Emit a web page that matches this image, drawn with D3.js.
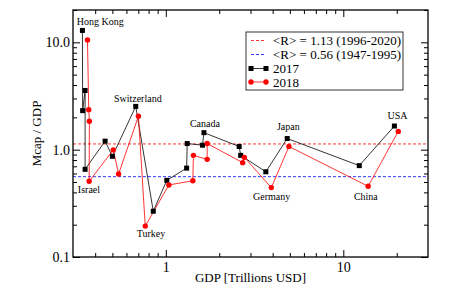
<!DOCTYPE html>
<html>
<head>
<meta charset="utf-8">
<script src="https://cdn.jsdelivr.net/npm/d3@7"></script>
<style>
  body { margin: 0; background: #fff; }
  svg { display: block; font-family: "Liberation Serif", "Times New Roman", serif; }
</style>
</head>
<body>
<div id="chart"></div>
<script>
// data (GDP in trillions USD, ratio Mcap/GDP)
const gdp2017 = [0.339, 0.340, 0.351, 0.351, 0.455, 0.500, 0.677, 0.850, 1.013, 1.31, 1.32, 1.61, 1.64, 2.59, 2.64, 3.66, 4.83, 12.3, 19.4];
const ratio2017 = [12.9, 2.31, 3.56, 0.656, 1.20, 0.867, 2.53, 0.267, 0.518, 0.673, 1.14, 1.10, 1.44, 1.07, 0.885, 0.622, 1.27, 0.710, 1.66];
const gdp2018 = [0.362, 0.368, 0.371, 0.370, 0.506, 0.542, 0.701, 0.766, 1.04, 1.42, 1.43, 1.71, 1.71, 2.71, 2.77, 3.93, 4.94, 13.8, 20.4];
const ratio2018 = [10.5, 2.36, 1.84, 0.507, 0.996, 0.593, 2.05, 0.194, 0.469, 0.513, 0.885, 0.812, 1.14, 0.757, 0.848, 0.443, 1.07, 0.456, 1.48];

// reference averages
const avgLabels = ["<R> = 1.13 (1996-2020)", "<R> = 0.56 (1947-1995)"];
const avgValues = [1.13, 0.56];
const avgColors = ["#ff0000", "#0000ff"];

// country annotations (text, gdp, ratio at baseline)
const labelText = ["Hong Kong", "Switzerland", "Canada", "Japan", "USA", "Israel", "Turkey", "Germany", "China"];
const labelGdp = [0.427, 0.695, 1.66, 4.90, 20.2, 0.369, 0.825, 3.95, 13.4];
const labelRatio = [14.6, 2.78, 1.63, 1.51, 1.94, 0.396, 0.155, 0.338, 0.338];

// ticks
const xMajor = [1, 10];
const xMinor = [0.4, 0.5, 0.6, 0.7, 0.8, 0.9, 2, 3, 4, 5, 6, 7, 8, 9, 20];
const yMajor = [0.1, 1, 10];
const yMinor = [0.2, 0.3, 0.4, 0.5, 0.6, 0.7, 0.8, 0.9, 2, 3, 4, 5, 6, 7, 8, 9, 20];

const serif = "Liberation Serif, Times New Roman, serif";

// dimensions
const w = 469;
const h = 291;
const padLeft = 73;
const padRight = 41;
const padTop = 10;
const padBot = 34;

const svg = d3.select("#chart")
  .append("svg")
  .attr("width", w)
  .attr("height", h);

const xScale = d3.scaleLog()
  .domain([0.3, 30])
  .range([padLeft, w - padRight]);
const yScale = d3.scaleLog()
  .domain([0.1, 20])
  .range([h - padBot, padTop]);

// axes: ticks point inward on all four sides
function styleAxis(g) {
  g.attr("font-family", serif);
  g.select(".domain").remove();
  g.selectAll("line").attr("stroke", "#000").attr("stroke-width", 1);
  g.selectAll("text").attr("fill", "#000").style("font-size", "14px")
    .style("font-family", serif);
}

// bottom
svg.append("g")
  .attr("transform", `translate(0, ${h - padBot})`)
  .call(d3.axisBottom(xScale).tickValues(xMajor).tickSizeInner(-7).tickSizeOuter(0)
    .tickPadding(5).tickFormat(d3.format("d")))
  .call(styleAxis);
svg.append("g")
  .attr("transform", `translate(0, ${h - padBot})`)
  .call(d3.axisBottom(xScale).tickValues(xMinor).tickSizeInner(-4).tickSizeOuter(0).tickFormat(""))
  .call(styleAxis);
// top
svg.append("g")
  .attr("transform", `translate(0, ${padTop})`)
  .call(d3.axisTop(xScale).tickValues(xMajor).tickSizeInner(-7).tickSizeOuter(0).tickFormat(""))
  .call(styleAxis);
svg.append("g")
  .attr("transform", `translate(0, ${padTop})`)
  .call(d3.axisTop(xScale).tickValues(xMinor).tickSizeInner(-4).tickSizeOuter(0).tickFormat(""))
  .call(styleAxis);
// left
svg.append("g")
  .attr("transform", `translate(${padLeft}, 0)`)
  .call(d3.axisLeft(yScale).tickValues(yMajor).tickSizeInner(-7).tickSizeOuter(0)
    .tickPadding(3).tickFormat(d3.format(".1f")))
  .call(styleAxis);
svg.append("g")
  .attr("transform", `translate(${padLeft}, 0)`)
  .call(d3.axisLeft(yScale).tickValues(yMinor).tickSizeInner(-4).tickSizeOuter(0).tickFormat(""))
  .call(styleAxis);
// right
svg.append("g")
  .attr("transform", `translate(${w - padRight}, 0)`)
  .call(d3.axisRight(yScale).tickValues(yMajor).tickSizeInner(-7).tickSizeOuter(0).tickFormat(""))
  .call(styleAxis);
svg.append("g")
  .attr("transform", `translate(${w - padRight}, 0)`)
  .call(d3.axisRight(yScale).tickValues(yMinor).tickSizeInner(-4).tickSizeOuter(0).tickFormat(""))
  .call(styleAxis);

// average lines
svg.selectAll(".avg")
  .data(avgValues)
  .enter()
  .append("line")
  .attr("class", "avg")
  .attr("x1", xScale.range()[0])
  .attr("x2", xScale.range()[1])
  .attr("y1", d => yScale(d))
  .attr("y2", d => yScale(d))
  .attr("stroke", (d, i) => avgColors[i])
  .attr("stroke-width", 0.8)
  .attr("stroke-dasharray", "3,2");

// series lines
const line = d3.line().x(d => xScale(d[0])).y(d => yScale(d[1]));
const pts2017 = gdp2017.map((g, i) => [g, ratio2017[i]]);
const pts2018 = gdp2018.map((g, i) => [g, ratio2018[i]]);

svg.append("path")
  .datum(pts2017)
  .attr("d", line)
  .attr("fill", "none")
  .attr("stroke", "#000")
  .attr("stroke-width", 0.8);
svg.append("path")
  .datum(pts2018)
  .attr("d", line)
  .attr("fill", "none")
  .attr("stroke", "#ff0000")
  .attr("stroke-width", 0.8);

// markers
const sq = 5;
svg.selectAll(".sq")
  .data(pts2017)
  .enter()
  .append("rect")
  .attr("class", "sq")
  .attr("x", d => xScale(d[0]) - sq / 2)
  .attr("y", d => yScale(d[1]) - sq / 2)
  .attr("width", sq)
  .attr("height", sq)
  .attr("fill", "#000");
svg.selectAll(".dot")
  .data(pts2018)
  .enter()
  .append("circle")
  .attr("class", "dot")
  .attr("cx", d => xScale(d[0]))
  .attr("cy", d => yScale(d[1]))
  .attr("r", 2.7)
  .attr("fill", "#ff0000");

// country labels
svg.selectAll(".country")
  .data(labelText)
  .enter()
  .append("text")
  .attr("class", "country")
  .attr("x", (d, i) => xScale(labelGdp[i]))
  .attr("y", (d, i) => yScale(labelRatio[i]))
  .attr("text-anchor", "middle")
  .attr("font-family", serif)
  .style("font-size", "10px")
  .text(d => d);

// frame
svg.append("rect")
  .attr("x", padLeft)
  .attr("y", padTop)
  .attr("width", w - padLeft - padRight)
  .attr("height", h - padTop - padBot)
  .attr("fill", "none")
  .attr("stroke", "#000")
  .attr("stroke-width", 1.3);

// axis titles
svg.append("text")
  .text("GDP [Trillions USD]")
  .attr("text-anchor", "middle")
  .attr("x", (padLeft + w - padRight) / 2)
  .attr("y", h - 9)
  .attr("font-family", serif)
  .style("font-size", "13px");
svg.append("text")
  .text("Mcap / GDP")
  .attr("text-anchor", "middle")
  .attr("transform", `translate(41, ${(padTop + h - padBot) / 2}) rotate(-90)`)
  .attr("font-family", serif)
  .style("font-size", "13px");

// LEGEND
const legend = svg.append("g").attr("transform", "translate(246, 32)")
  .attr("font-family", serif);
legend.append("rect")
  .attr("width", 157)
  .attr("height", 58)
  .attr("fill", "#fff")
  .attr("stroke", "#000")
  .attr("stroke-width", 0.8);
const rowY = [8.5, 22.5, 36.5, 50];
avgLabels.forEach((t, i) => {
  legend.append("line")
    .attr("x1", 5).attr("x2", 20)
    .attr("y1", rowY[i]).attr("y2", rowY[i])
    .attr("stroke", avgColors[i])
    .attr("stroke-width", 0.8)
    .attr("stroke-dasharray", "3,2");
  legend.append("text")
    .attr("x", 27).attr("y", rowY[i] + 4.5)
    .style("font-size", "13px")
    .text(t);
});
// 2017 entry
legend.append("line")
  .attr("x1", 5).attr("x2", 20)
  .attr("y1", rowY[2]).attr("y2", rowY[2])
  .attr("stroke", "#000").attr("stroke-width", 0.8);
[5, 20].forEach(x => legend.append("rect")
  .attr("x", x - sq / 2).attr("y", rowY[2] - sq / 2)
  .attr("width", sq).attr("height", sq).attr("fill", "#000"));
legend.append("text")
  .attr("x", 27).attr("y", rowY[2] + 4.5)
  .style("font-size", "13px")
  .text("2017");
// 2018 entry
legend.append("line")
  .attr("x1", 5).attr("x2", 20)
  .attr("y1", rowY[3]).attr("y2", rowY[3])
  .attr("stroke", "#ff0000").attr("stroke-width", 0.8);
[5, 20].forEach(x => legend.append("circle")
  .attr("cx", x).attr("cy", rowY[3]).attr("r", 2.7).attr("fill", "#ff0000"));
legend.append("text")
  .attr("x", 27).attr("y", rowY[3] + 4.5)
  .style("font-size", "13px")
  .text("2018");
</script>
</body>
</html>
